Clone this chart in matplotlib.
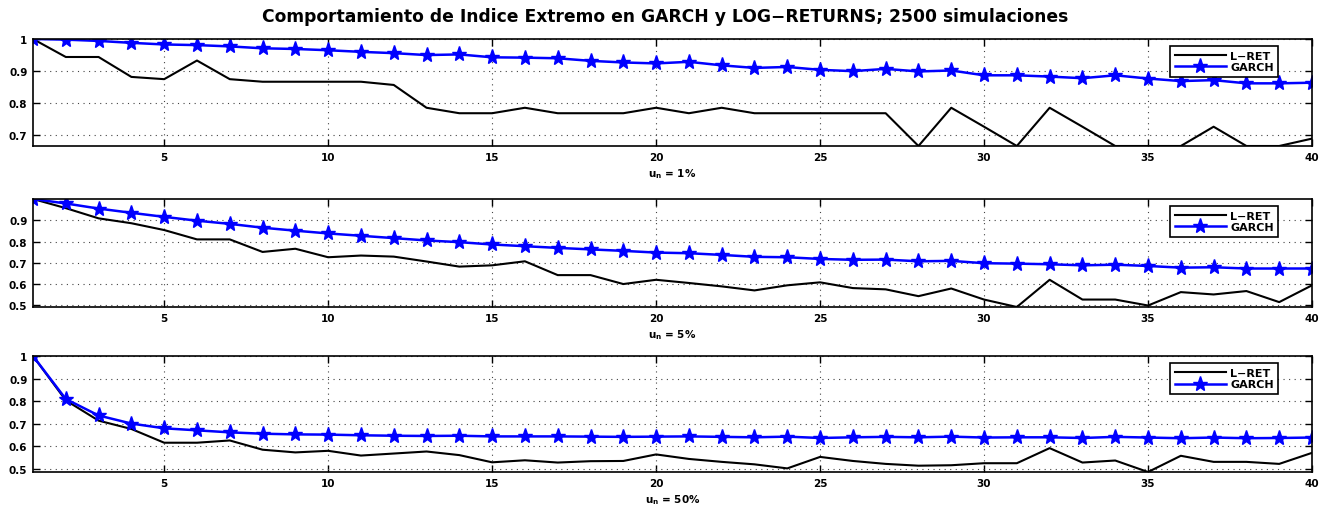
import numpy as np
import matplotlib
matplotlib.use("Agg")
import matplotlib.pyplot as plt

plt.rcParams['font.family'] = ['DejaVu Sans']
plt.rcParams['font.weight'] = 'bold'
plt.rcParams['mathtext.fontset'] = 'custom'
plt.rcParams['mathtext.rm'] = 'DejaVu Sans:bold'
plt.rcParams['mathtext.it'] = 'DejaVu Sans:bold'
plt.rcParams['mathtext.bf'] = 'DejaVu Sans:bold'

x = np.arange(1, 41)

# u_n = 1%
lret_1 = [1.0, 0.944, 0.944, 0.882, 0.875, 0.933, 0.875, 0.867, 0.867, 0.867,
          0.867, 0.857, 0.786, 0.769, 0.769, 0.786, 0.769, 0.769, 0.769, 0.786,
          0.769, 0.786, 0.769, 0.769, 0.769, 0.769, 0.769, 0.667, 0.786, 0.727,
          0.667, 0.786, 0.727, 0.667, 0.667, 0.667, 0.727, 0.667, 0.667, 0.690]
garch_1 = [1.0, 0.998, 0.994, 0.988, 0.983, 0.981, 0.977, 0.971, 0.969, 0.965,
           0.960, 0.956, 0.950, 0.952, 0.943, 0.942, 0.940, 0.932, 0.927, 0.924,
           0.929, 0.918, 0.910, 0.913, 0.904, 0.900, 0.907, 0.899, 0.902, 0.887,
           0.887, 0.883, 0.878, 0.887, 0.877, 0.869, 0.872, 0.862, 0.862, 0.864]

# u_n = 5%
lret_5 = [1.0, 0.957, 0.909, 0.886, 0.854, 0.810, 0.810, 0.751, 0.766, 0.726,
          0.734, 0.729, 0.706, 0.682, 0.688, 0.707, 0.642, 0.642, 0.600, 0.620,
          0.605, 0.589, 0.570, 0.594, 0.608, 0.581, 0.575, 0.543, 0.579, 0.527,
          0.492, 0.620, 0.527, 0.527, 0.499, 0.562, 0.551, 0.567, 0.515, 0.594]
garch_5 = [1.0, 0.979, 0.955, 0.935, 0.916, 0.898, 0.883, 0.865, 0.851, 0.838,
           0.827, 0.816, 0.805, 0.797, 0.786, 0.778, 0.770, 0.763, 0.756, 0.748,
           0.745, 0.737, 0.728, 0.726, 0.718, 0.714, 0.715, 0.707, 0.709, 0.698,
           0.696, 0.693, 0.688, 0.691, 0.685, 0.677, 0.679, 0.673, 0.673, 0.673]

# u_n = 50%
lret_50 = [1.0, 0.803, 0.713, 0.676, 0.615, 0.615, 0.625, 0.584, 0.572, 0.579,
           0.558, 0.567, 0.576, 0.560, 0.528, 0.537, 0.527, 0.533, 0.534, 0.563,
           0.543, 0.530, 0.519, 0.501, 0.552, 0.534, 0.521, 0.513, 0.515, 0.524,
           0.524, 0.591, 0.527, 0.536, 0.485, 0.557, 0.530, 0.530, 0.521, 0.570]
garch_50 = [1.0, 0.809, 0.736, 0.700, 0.679, 0.670, 0.661, 0.655, 0.652, 0.651,
            0.648, 0.646, 0.645, 0.646, 0.643, 0.643, 0.643, 0.642, 0.641, 0.642,
            0.643, 0.641, 0.639, 0.642, 0.636, 0.639, 0.641, 0.639, 0.642, 0.638,
            0.639, 0.639, 0.636, 0.641, 0.638, 0.635, 0.638, 0.635, 0.636, 0.638]

labels = ['u$_n$ = 1%', 'u$_n$ = 5%', 'u$_n$ = 50%']
yticks = [[0.7, 0.8, 0.9, 1.0], [0.5, 0.6, 0.7, 0.8, 0.9], [0.5, 0.6, 0.7, 0.8, 0.9, 1.0]]
yticklabels = [['0.7', '0.8', '0.9', '1'], ['0.5', '0.6', '0.7', '0.8', '0.9'],
               ['0.5', '0.6', '0.7', '0.8', '0.9', '1']]
series = [(lret_1, garch_1), (lret_5, garch_5), (lret_50, garch_50)]

fig = plt.figure(figsize=(13.3, 5.06), dpi=100)
W, H = 1330, 506
# axes boxes in pixels: (left, top, right, bottom)
boxes = [(33, 40, 1312, 147), (33, 200, 1312, 308), (33, 357, 1312, 473)]

for (l, t, r, b), (lr, ga), lab, yt, ytl in zip(boxes, series, labels, yticks, yticklabels):
    ax = fig.add_axes([l / W, 1 - b / H, (r - l) / W, (b - t) / H])
    ax.plot(x, lr, color='black', lw=1.5, label='L\u2212RET')
    ax.plot(x, ga, color='blue', lw=1.8, marker='*', markersize=11,
            label='GARCH')
    ax.set_xlim(1, 40)
    ax.set_ylim(min(lr), 1.0)
    ax.set_xticks([5, 10, 15, 20, 25, 30, 35, 40])
    ax.set_yticks(yt)
    ax.set_yticklabels(ytl)
    ax.grid(True, linestyle=(0, (1, 4)), color='#444444', lw=0.8)
    ax.tick_params(direction='in', length=5, width=1, top=True, right=True,
                   labelsize=7.5, pad=4)
    for s in ax.spines.values():
        s.set_linewidth(1.2)
    ax.set_xlabel(lab, fontsize=7.5, fontweight='bold', labelpad=3)
    leg = ax.legend(loc='upper right', fontsize=8, fancybox=False,
                    framealpha=1, edgecolor='black', borderpad=0.4,
                    handlelength=4.6, handletextpad=0.4, labelspacing=0.15,
                    bbox_to_anchor=(0.978, 0.985))
    leg.get_frame().set_linewidth(1.2)

fig.text(0.5, 1 - 17 / H,
         'Comportamiento de Indice Extremo en GARCH y LOG\u2212RETURNS; 2500 simulaciones',
         ha='center', va='center', fontsize=12.3, fontweight='bold')

fig.savefig('out.png', dpi=100)
